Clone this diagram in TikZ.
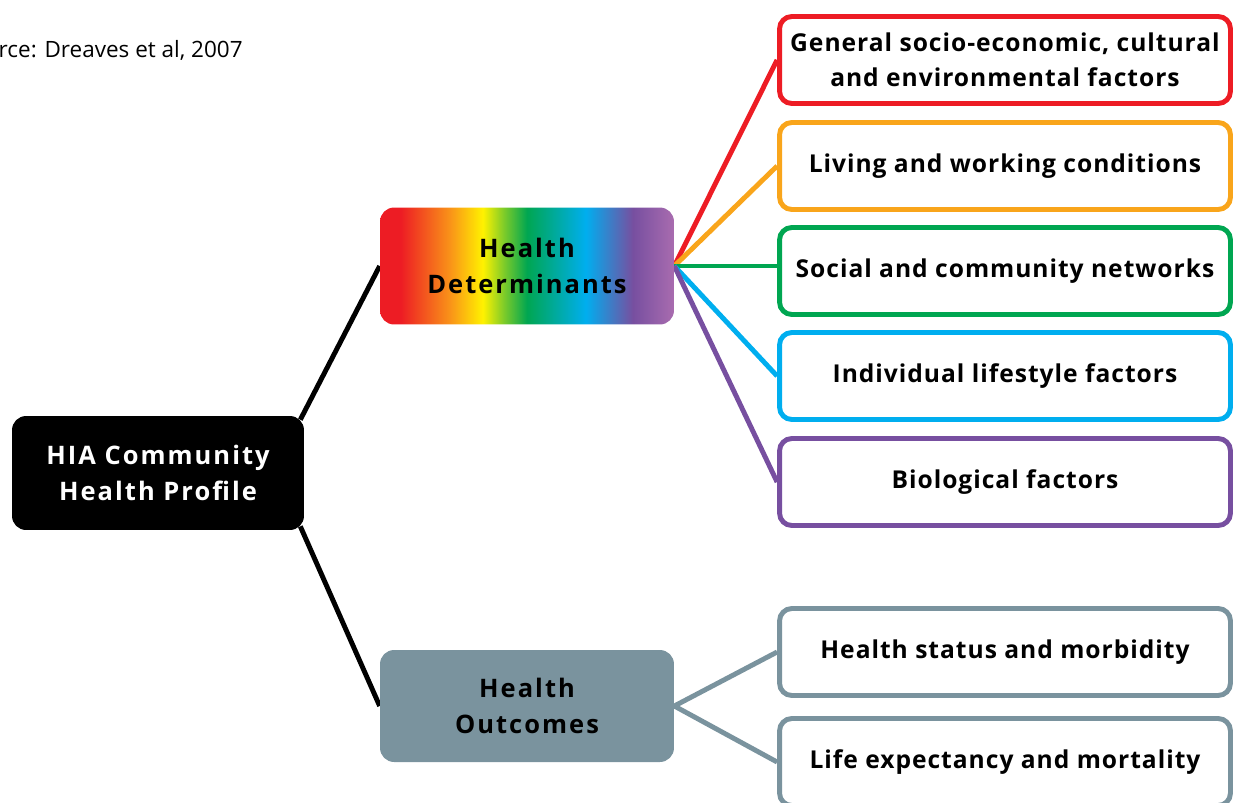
\documentclass[tikz,border=0pt]{standalone}
\usepackage{fontspec}
\setmainfont{Open Sans}
\newfontfamily\spacedfont[LetterSpace=8]{Open Sans}
\newfontfamily\factorfont[LetterSpace=4]{Open Sans}
\usetikzlibrary{backgrounds}

\definecolor{hiared}{HTML}{ED1C24}
\definecolor{hiaorange}{HTML}{F9A51B}
\definecolor{hiayellow}{HTML}{FFF200}
\definecolor{hiagreen}{HTML}{00A651}
\definecolor{hiablue}{HTML}{00AEEF}
\definecolor{hiapurple}{HTML}{774FA0}
\definecolor{hiapink}{HTML}{A96CAF}
\definecolor{hiagray}{HTML}{7A939E}

\pgfdeclarehorizontalshading{rainbow}{100bp}{color(0bp)=(hiared); color(25bp)=(hiared);
  color(28.5bp)=(hiared); color(37bp)=(hiaorange!90!red); color(42.5bp)=(hiayellow);
  color(46bp)=(hiagreen!50!hiayellow); color(50bp)=(hiagreen); color(55bp)=(hiagreen!50!hiablue);
  color(60bp)=(hiablue); color(68bp)=(hiapurple); color(75bp)=(hiapink); color(100bp)=(hiapink)}

\tikzset{
  topic/.style={rounded corners=8pt, minimum width=5.88cm, minimum height=2.3cm,
    inner sep=0pt, align=center, font=\spacedfont\bfseries\fontsize{14.5}{20.5}\selectfont},
  factor/.style={draw=#1, fill=white, line width=2.8pt, rounded corners=7pt,
    minimum width=9.02cm, minimum height=1.74cm, inner sep=0pt, align=center,
    font=\factorfont\bfseries\fontsize{14}{19.8}\selectfont},
  link/.style={line width=2.8pt, draw=#1}
}

\begin{document}
\begin{tikzpicture}[x=0.02cm, y=-0.02cm]
  % frame of the picture
  \path[use as bounding box, clip] (0,0) rectangle (1235,802);

  % source line
  \node[anchor=base east, inner sep=0pt, font=\fontsize{12.8}{15}\selectfont] (src) at (243,57) {Source: Dreaves et al, 2007};

  % main nodes
  \node[topic, fill=black, text=white, minimum width=5.84cm, minimum height=2.28cm] (hia) at (158,473) {HIA Community\\Health Profile};
  \node[topic, shading=rainbow, minimum height=2.34cm] (det) at (527,266) {Health\\Determinants};
  \node[topic, fill=hiagray, minimum height=2.24cm] (out) at (527,706) {Health\\Outcomes};

  % determinants
  \node[factor=hiared] (gen) at (1005,60) {General socio-economic, cultural\\and environmental factors};
  \node[factor=hiaorange] (liv) at (1005,166) {Living and working conditions};
  \node[factor=hiagreen] (soc) at (1005,271) {Social and community networks};
  \node[factor=hiablue] (ind) at (1005,376) {Individual lifestyle factors};
  \node[factor=hiapurple] (bio) at (1005,482) {Biological factors};

  % outcomes
  \node[factor=hiagray] (sta) at (1005,652) {Health status and morbidity};
  \node[factor=hiagray] (lif) at (1005,762) {Life expectancy and mortality};

  % connectors
  \begin{pgfonlayer}{background}
    \draw[link=black] (hia.north east) ++(-4,4) coordinate (hiatop) -- (det.west);
    \draw[link=black] (hia.south east) ++(-4,-4) coordinate (hiabot) -- (out.west);
    \draw[link=hiared] (det.east) -- (gen.west);
    \draw[link=hiaorange] (det.east) -- (liv.west);
    \draw[link=hiagreen] (det.east) -- (det.east -| soc.west);
    \draw[link=hiablue] (det.east) -- (ind.west);
    \draw[link=hiapurple] (det.east) -- (bio.west);
    \draw[link=hiagray] (out.east) -- (sta.west);
    \draw[link=hiagray] (out.east) -- (lif.west);
  \end{pgfonlayer}
\end{tikzpicture}
\end{document}
